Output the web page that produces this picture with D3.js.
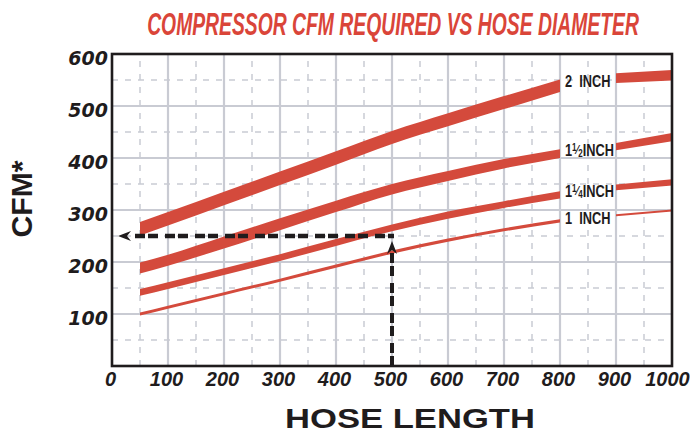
<!DOCTYPE html>
<html>
<head>
<meta charset="utf-8">
<script src="https://cdn.jsdelivr.net/npm/d3@7"></script>
<style>
  body { margin: 0; background: #fff; }
  svg { display: block; }
</style>
</head>
<body>
<div class="chart"></div>
<script>
const hoseLength = [50, 100, 200, 300, 400, 500, 600, 700, 800, 900, 1000];

// each hose is drawn as a band: lower and upper CFM edge
const inch2Low    = [251, 270, 309, 348, 387, 427, 461, 494, 527, 544, 549];
const inch2High   = [277, 296, 335, 374, 413, 452, 486, 519, 551, 563, 569];
const inch15Low   = [178, 193, 226, 261, 296, 330, 356, 380, 400, 415, 432];
const inch15High  = [199, 214, 249, 284, 318, 350, 375, 398, 417, 429, 448];
const inch125Low  = [135, 148, 175, 202, 231, 259, 283, 304, 322, 338, 347];
const inch125High = [148, 161, 188, 215, 244, 272, 297, 317, 336, 349, 359];
const inch1Low    = [97, 110, 136, 162, 189, 216, 239, 259, 276, 288, 297];
const inch1High   = [103, 116, 142, 168, 195, 222, 245, 265, 282, 292, 301];

// the bands break between these two lengths to make room for the labels
const labelGap = [800, 900];

const xTicks = [0, 100, 200, 300, 400, 500, 600, 700, 800, 900, 1000];
const yTicks = [100, 200, 300, 400, 500, 600];

// example reading drawn with the dashed arrows
const guideLength = 500;
const guideCfm = 250;

const title = 'COMPRESSOR CFM REQUIRED VS HOSE DIAMETER';
const xTitle = 'HOSE LENGTH';
const yTitle = 'CFM*';

const width = 690;
const height = 440;
const margin = { top: 54, right: 18, bottom: 74, left: 112 };

const red = '#d44a3c';
const gridColor = '#c9cbd3';
const ink = '#1f1c1d';

const x = d3.scaleLinear().domain([0, 1000]).range([margin.left, width - margin.right]);
const y = d3.scaleLinear().domain([0, 600]).range([height - margin.bottom, margin.top]);

const svg = d3.select('.chart')
  .append('svg')
  .attr('width', width)
  .attr('height', height);

// grid: solid lines on hundreds, dashed on the fifties
const grid = svg.append('g');
const majorX = d3.range(100, 1000, 100);
const minorX = d3.range(50, 1000, 100);
const majorY = d3.range(100, 600, 100);
const minorY = d3.range(50, 600, 100);

grid.selectAll('.vminor')
  .data(minorX)
  .enter()
    .append('line')
    .attr('x1', d => x(d)).attr('x2', d => x(d))
    .attr('y1', y(0)).attr('y2', y(600))
    .attr('stroke', gridColor)
    .attr('stroke-width', 1.5)
    .attr('stroke-dasharray', '6 7');

grid.selectAll('.hminor')
  .data(minorY)
  .enter()
    .append('line')
    .attr('x1', x(0)).attr('x2', x(1000))
    .attr('y1', d => y(d)).attr('y2', d => y(d))
    .attr('stroke', gridColor)
    .attr('stroke-width', 1.5)
    .attr('stroke-dasharray', '6 7');

grid.selectAll('.vmajor')
  .data(majorX)
  .enter()
    .append('line')
    .attr('x1', d => x(d)).attr('x2', d => x(d))
    .attr('y1', y(0)).attr('y2', y(600))
    .attr('stroke', gridColor)
    .attr('stroke-width', 2.2);

grid.selectAll('.hmajor')
  .data(majorY)
  .enter()
    .append('line')
    .attr('x1', x(0)).attr('x2', x(1000))
    .attr('y1', d => y(d)).attr('y2', d => y(d))
    .attr('stroke', gridColor)
    .attr('stroke-width', 2.2);

// hose bands
const series = [
  { name: '2', low: inch2Low, high: inch2High },
  { name: '1 1/2', low: inch15Low, high: inch15High },
  { name: '1 1/4', low: inch125Low, high: inch125High },
  { name: '1', low: inch1Low, high: inch1High }
];

const band = d3.area()
  .x(d => x(d.len))
  .y0(d => y(d.lo))
  .y1(d => y(d.hi))
  .curve(d3.curveMonotoneX);

series.forEach(s => {
  const pts = hoseLength.map((len, i) => ({ len: len, lo: s.low[i], hi: s.high[i] }));
  const before = pts.filter(p => p.len <= labelGap[0]);
  const after = pts.filter(p => p.len >= labelGap[1]);
  [before, after].forEach(seg => {
    svg.append('path')
      .datum(seg)
      .attr('d', band)
      .attr('fill', red);
  });
  // label sits halfway between the ends of the gap
  const i0 = hoseLength.indexOf(labelGap[0]);
  const i1 = hoseLength.indexOf(labelGap[1]);
  s.labelCfm = (s.low[i0] + s.high[i0] + s.low[i1] + s.high[i1]) / 4;
});

// curve labels
const labelFont = '"Liberation Sans", Arial, sans-serif';
series.forEach(s => {
  const g = svg.append('g')
    .attr('transform', `translate(${x(labelGap[0]) + 5},${y(s.labelCfm) + 5.5}) scale(0.8,1)`);
  const t = g.append('text')
    .attr('font-family', labelFont)
    .attr('font-weight', 'bold')
    .attr('font-size', 16)
    .attr('fill', ink)
    .style('white-space', 'pre');
  if (s.name.indexOf('/') > -1) {
    const parts = s.name.split(' ');
    const frac = parts[1].split('/');
    t.append('tspan').text(parts[0]);
    t.append('tspan').attr('font-size', 10).attr('dy', -5).text(frac[0]);
    t.append('tspan').attr('font-size', 13).attr('dy', 3).text('\u2044');
    t.append('tspan').attr('font-size', 10).attr('dy', 3).text(frac[1]);
    t.append('tspan').attr('dy', -1).text('INCH');
  } else {
    t.text(s.name + '  INCH');
  }
});

// dashed arrows showing the 500 ft / 250 CFM reading
const arrowDash = '10 3 10 7';
svg.append('line')
  .attr('x1', x(0) + 23).attr('x2', x(guideLength) + 2)
  .attr('y1', y(guideCfm)).attr('y2', y(guideCfm))
  .attr('stroke', ink)
  .attr('stroke-width', 4.5)
  .attr('stroke-dasharray', arrowDash);

svg.append('line')
  .attr('x1', x(guideLength)).attr('x2', x(guideLength))
  .attr('y1', y(0)).attr('y2', y(guideCfm) + 16)
  .attr('stroke', ink)
  .attr('stroke-width', 4)
  .attr('stroke-dasharray', arrowDash);

const head = 'M0,0 L-13,-5 L-9,0 L-13,5 Z';
svg.append('path')
  .attr('d', head)
  .attr('fill', ink)
  .attr('transform', `translate(${x(0) + 6},${y(guideCfm)}) rotate(180)`);
svg.append('path')
  .attr('d', head)
  .attr('fill', ink)
  .attr('transform', `translate(${x(guideLength)},${y(guideCfm) + 5}) rotate(-90)`);

// frame
svg.append('rect')
  .attr('x', x(0))
  .attr('y', y(600))
  .attr('width', x(1000) - x(0))
  .attr('height', y(0) - y(600))
  .attr('fill', 'none')
  .attr('stroke', ink)
  .attr('stroke-width', 2.6);

// axes (labels only, the frame and grid are drawn above)
const yAxis = svg.append('g')
  .attr('transform', `translate(${x(0)},0)`)
  .call(d3.axisLeft(y).tickValues(yTicks).tickSize(0).tickPadding(4));
yAxis.select('.domain').remove();
yAxis.selectAll('text')
  .attr('font-family', '"DejaVu Sans", sans-serif')
  .attr('font-weight', 'bold')
  .attr('font-style', 'italic')
  .attr('font-size', 19)
  .attr('fill', ink)
  .attr('dy', '0.55em');

const xAxis = svg.append('g')
  .attr('transform', `translate(0,${y(0)})`)
  .call(d3.axisBottom(x).tickValues(xTicks).tickFormat(d3.format('d')).tickSize(0).tickPadding(6));
xAxis.select('.domain').remove();
xAxis.selectAll('text')
  .attr('font-family', '"Liberation Sans", Arial, sans-serif')
  .attr('font-weight', 'bold')
  .attr('font-style', 'italic')
  .attr('font-size', 20)
  .attr('fill', ink)
  .attr('dx', -2);
// the last label is pulled in so it stays inside the page
xAxis.selectAll('text').filter(d => d === 1000).attr('dx', -5);

// squeeze a text to a given width, the way the condensed poster type looks
function fitText(sel, w, place) {
  const len = sel.node().getComputedTextLength();
  sel.attr('transform', `${place} scale(${w / len},1)`);
}

const titleText = svg.append('text')
  .attr('text-anchor', 'middle')
  .attr('font-family', '"Liberation Sans Narrow", "Liberation Sans", Arial, sans-serif')
  .attr('font-weight', 'bold')
  .attr('font-style', 'italic')
  .attr('font-size', 32)
  .attr('fill', '#da4539')
  .text(title);
fitText(titleText, 492, 'translate(393,35)');

const xTitleText = svg.append('text')
  .attr('text-anchor', 'middle')
  .attr('font-family', '"Liberation Sans", Arial, sans-serif')
  .attr('font-weight', 'bold')
  .attr('font-size', 28)
  .attr('fill', ink)
  .text(xTitle);
fitText(xTitleText, 250, 'translate(410,428)');

const yTitleText = svg.append('text')
  .attr('text-anchor', 'middle')
  .attr('font-family', '"Liberation Sans", Arial, sans-serif')
  .attr('font-weight', 'bold')
  .attr('font-size', 30)
  .attr('fill', ink)
  .text(yTitle);
fitText(yTitleText, 77, 'translate(32,199) rotate(-90)');
</script>
</body>
</html>
